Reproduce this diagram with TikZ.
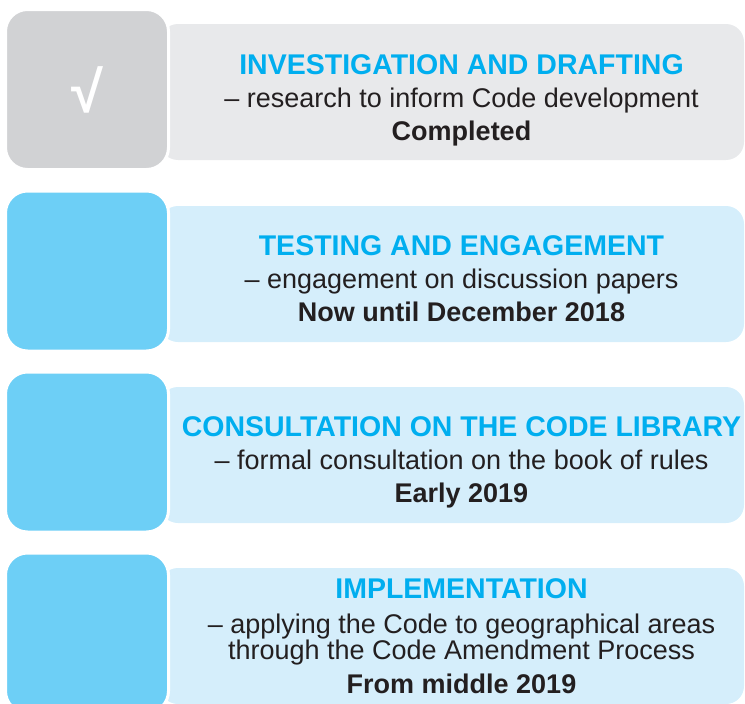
\documentclass[tikz,border=0pt]{standalone}
\usepackage{fontspec}
\setmainfont{Liberation Sans}
\usetikzlibrary{positioning}
\definecolor{tilegray}{HTML}{D1D2D4}
\definecolor{bargray}{HTML}{E8E9EB}
\definecolor{tileblue}{HTML}{6DCFF6}
\definecolor{barblue}{HTML}{D5EEFB}
\definecolor{headcyan}{HTML}{00AEEF}
\definecolor{bodydark}{HTML}{231F20}
\newcommand{\phasetitle}[1]{{\color{headcyan}\fontsize{28.5}{26}\selectfont\bfseries #1}}

\begin{document}
\begin{tikzpicture}[x=1pt,y=-1pt,
    tile/.style={rectangle,rounded corners=22pt,draw=white,line width=3pt,
      minimum width=163pt,minimum height=160pt,inner sep=0pt},
    bar/.style={rectangle,rounded corners=18pt,minimum width=584pt,
      minimum height=136pt,inner sep=0pt},
    phase/.style={align=center,text=bodydark,anchor=base,inner sep=0pt,
      font=\fontsize{27}{26}\selectfont}]
\useasboundingbox (0,0) rectangle (745,704);

% completed phase
\node[bar,fill=bargray] (bar1) at (452,92) {};
\node[tile,fill=tilegray] (tile1) at (87,89.5)
  {\fontsize{58}{58}\selectfont\bfseries\color{white}√};
\node[phase] (text1) at (461.5,140)
  {\phasetitle{INVESTIGATION AND DRAFTING}\\[7pt]
   – research to inform Code development\\[7pt]
   \textbf{Completed}};

% current and later phases
\node[bar,fill=barblue] (bar2) at (452,274) {};
\node[tile,fill=tileblue] (tile2) at (87,271) {};
\node[phase] (text2) at (461.5,321.5)
  {\phasetitle{TESTING AND ENGAGEMENT}\\[7pt]
   – engagement on discussion papers\\[7pt]
   \textbf{Now until December 2018}};

\node[bar,fill=barblue] (bar3) at (452,455) {};
\node[tile,fill=tileblue] (tile3) at (87,452) {};
\node[phase] (text3) at (461.5,502)
  {\phasetitle{CONSULTATION ON THE CODE LIBRARY}\\[7pt]
   – formal consultation on the book of rules\\[7pt]
   \textbf{Early 2019}};

\node[bar,fill=barblue] (bar4) at (452,636) {};
\node[tile,fill=tileblue] (tile4) at (87,633) {};
\node[phase] (text4) at (461.5,693)
  {\phasetitle{IMPLEMENTATION}\\[9pt]
   – applying the Code to geographical areas\\
   through the Code Amendment Process\\[8pt]
   \textbf{From middle 2019}};
\end{tikzpicture}
\end{document}
